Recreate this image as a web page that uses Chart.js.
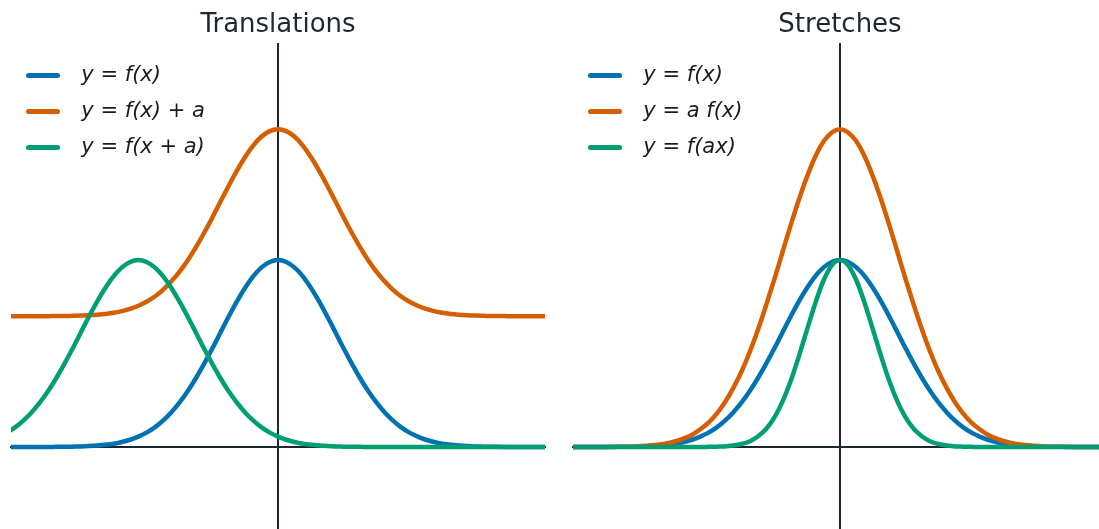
<!DOCTYPE html>
<html>
<head>
<meta charset="utf-8">
<script src="https://cdn.jsdelivr.net/npm/chart.js@4.4.1/dist/chart.umd.min.js"></script>
<style>
  html, body { margin: 0; padding: 0; background: #fff; overflow: hidden; }
  body { width: 1099px; height: 529px; position: relative; }
  canvas { position: absolute; top: 0; }
  #translations { left: 0; }
  #stretches { left: 560px; }
</style>
</head>
<body>
<canvas id="translations" width="560" height="529"></canvas>
<canvas id="stretches" width="560" height="529"></canvas>
<script>
// sample positions along x (shared by every curve)
const xs = [
  -3.3, -3.2, -3.1, -3.0, -2.9, -2.8, -2.7, -2.6, -2.5, -2.4, -2.3,
  -2.2, -2.1, -2.0, -1.9, -1.8, -1.7, -1.6, -1.5, -1.4, -1.3, -1.2,
  -1.1, -1.0, -0.9, -0.8, -0.7, -0.6, -0.5, -0.4, -0.3, -0.2, -0.1,
  0,
  0.1, 0.2, 0.3, 0.4, 0.5, 0.6, 0.7, 0.8, 0.9, 1.0, 1.1,
  1.2, 1.3, 1.4, 1.5, 1.6, 1.7, 1.8, 1.9, 2.0, 2.1, 2.2,
  2.3, 2.4, 2.5, 2.6, 2.7, 2.8, 2.9, 3.0, 3.1, 3.2, 3.3,
];

// y = f(x)
const fx = [
  0, 0, 0, 0, 0, 0, 0.001, 0.001, 0.002, 0.003, 0.005,
  0.008, 0.012, 0.018, 0.027, 0.039, 0.056, 0.077, 0.105, 0.141, 0.185, 0.237,
  0.298, 0.368, 0.445, 0.527, 0.613, 0.698, 0.779, 0.852, 0.914, 0.961, 0.990,
  1,
  0.990, 0.961, 0.914, 0.852, 0.779, 0.698, 0.613, 0.527, 0.445, 0.368, 0.298,
  0.237, 0.185, 0.141, 0.105, 0.077, 0.056, 0.039, 0.027, 0.018, 0.012, 0.008,
  0.005, 0.003, 0.002, 0.001, 0.001, 0, 0, 0, 0, 0, 0,
];

// y = f(x) + a
const fxPlusA = [
  0.7, 0.7, 0.7, 0.7, 0.7, 0.7, 0.701, 0.701, 0.702, 0.703, 0.705,
  0.708, 0.712, 0.718, 0.727, 0.739, 0.756, 0.777, 0.805, 0.841, 0.885, 0.937,
  0.998, 1.068, 1.145, 1.227, 1.313, 1.398, 1.479, 1.552, 1.614, 1.661, 1.690,
  1.7,
  1.690, 1.661, 1.614, 1.552, 1.479, 1.398, 1.313, 1.227, 1.145, 1.068, 0.998,
  0.937, 0.885, 0.841, 0.805, 0.777, 0.756, 0.739, 0.727, 0.718, 0.712, 0.708,
  0.705, 0.703, 0.702, 0.701, 0.701, 0.7, 0.7, 0.7, 0.7, 0.7, 0.7,
];

// y = f(x + a)
const fxShifted = [
  0.077, 0.105, 0.141, 0.185, 0.237, 0.298, 0.368, 0.445, 0.527, 0.613, 0.698,
  0.779, 0.852, 0.914, 0.961, 0.990, 1, 0.990, 0.961, 0.914, 0.852, 0.779,
  0.698, 0.613, 0.527, 0.445, 0.368, 0.298, 0.237, 0.185, 0.141, 0.105, 0.077,
  0.056,
  0.039, 0.027, 0.018, 0.012, 0.008, 0.005, 0.003, 0.002, 0.001, 0.001, 0,
  0, 0, 0, 0, 0, 0, 0, 0, 0, 0, 0,
  0, 0, 0, 0, 0, 0, 0, 0, 0, 0, 0,
];

// y = a f(x)
const aFx = [
  0, 0, 0, 0, 0, 0.001, 0.002, 0.002, 0.003, 0.005, 0.009,
  0.014, 0.020, 0.031, 0.046, 0.066, 0.095, 0.131, 0.179, 0.240, 0.315, 0.403,
  0.507, 0.626, 0.757, 0.896, 1.042, 1.187, 1.324, 1.448, 1.554, 1.634, 1.683,
  1.7,
  1.683, 1.634, 1.554, 1.448, 1.324, 1.187, 1.042, 0.896, 0.757, 0.626, 0.507,
  0.403, 0.315, 0.240, 0.179, 0.131, 0.095, 0.066, 0.046, 0.031, 0.020, 0.014,
  0.009, 0.005, 0.003, 0.002, 0.002, 0.001, 0, 0, 0, 0, 0,
];

// y = f(ax)
const fAx = [
  0, 0, 0, 0, 0, 0, 0, 0, 0, 0, 0,
  0, 0, 0, 0, 0, 0, 0.001, 0.002, 0.003, 0.008, 0.016,
  0.030, 0.056, 0.096, 0.157, 0.243, 0.353, 0.486, 0.630, 0.771, 0.891, 0.972,
  1,
  0.972, 0.891, 0.771, 0.630, 0.486, 0.353, 0.243, 0.157, 0.096, 0.056, 0.030,
  0.016, 0.008, 0.003, 0.002, 0.001, 0, 0, 0, 0, 0, 0,
  0, 0, 0, 0, 0, 0, 0, 0, 0, 0, 0,
];

const blue = '#0072b2';
const orange = '#d55e00';
const green = '#009e73';
const ink = '#1f2633';

function series(label, values, color, order) {
  return {
    label,
    order,
    data: values.map((y, i) => ({ x: xs[i], y })),
    borderColor: color,
    backgroundColor: color,
    borderWidth: 4.5,
    pointRadius: 0,
    cubicInterpolationMode: 'monotone',
  };
}

const axisLine = { display: true, color: ink, width: 2 };

function panel(id, title, datasets, padLeft, padRight) {
  return new Chart(document.getElementById(id), {
    type: 'line',
    data: { datasets },
    options: {
      responsive: false,
      animation: false,
      layout: { padding: { left: padLeft, right: padRight, top: 0, bottom: 0 } },
      scales: {
        x: {
          type: 'linear', min: -3.25, max: 3.25, position: { y: 0 }, z: 1,
          grid: { display: false }, ticks: { display: false }, border: axisLine,
        },
        y: {
          type: 'linear', min: -0.4385, max: 2.155, position: { x: 0 }, z: 1,
          grid: { display: false }, ticks: { display: false }, border: axisLine,
        },
      },
      plugins: {
        title: {
          display: true,
          text: title,
          color: ink,
          font: { family: 'DejaVu Sans', size: 26, weight: 'normal' },
          padding: { top: 10, bottom: 3 },
        },
        legend: {
          position: 'chartArea',
          align: 'start',
          // empty title only pushes the entries down inside the plot
          title: { display: true, text: ' ', font: { size: 20, lineHeight: 1 }, padding: { top: 15, bottom: 15 } },
          labels: {
            boxWidth: 34,
            boxHeight: 5,
            padding: 15,
            color: '#1a1a1a',
            font: { family: 'DejaVu Sans', style: 'italic', size: 21 },
            useBorderRadius: true,
            borderRadius: 2.5,
            sort: (a, b) => a.datasetIndex - b.datasetIndex,
            generateLabels: (chart) => Chart.defaults.plugins.legend.labels.generateLabels(chart)
              .map((item) => ({ ...item, text: ' \u2009' + item.text, lineWidth: 0 })),
          },
        },
        tooltip: { enabled: false },
      },
    },
  });
}

panel('translations', 'Translations', [
  series('y = f(x)', fx, blue, 2),
  series('y = f(x) + a', fxPlusA, orange, 1),
  series('y = f(x + a)', fxShifted, green, 0),
], 11, 15);

panel('stretches', 'Stretches', [
  series('y = f(x)', fx, blue, 2),
  series('y = a f(x)', aFx, orange, 1),
  series('y = f(ax)', fAx, green, 0),
], 13, 13);
</script>
</body>
</html>
